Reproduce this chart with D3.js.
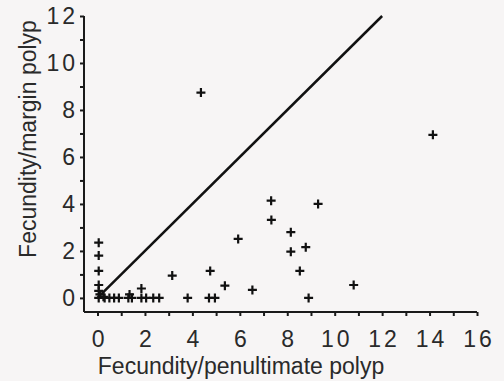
<!DOCTYPE html>
<html>
<head>
<meta charset="utf-8">
<script src="https://cdn.jsdelivr.net/npm/d3@7"></script>
<style>
  body { margin: 0; background: #f7f5f5; }
  svg { display: block; }
  .axis path, .axis line { stroke: #1a1a1a; stroke-width: 2; }
  .axis text { font-family: "Liberation Sans", Arial, sans-serif; font-size: 23px; fill: #2a2a2a; letter-spacing: 3px; }
  .title { font-family: "Liberation Sans", Arial, sans-serif; font-size: 23px; fill: #2a2a2a; }
</style>
</head>
<body>
<script>
// x = fecundity / penultimate polyp, y = fecundity / margin polyp
var xVals = [0.05, 0.05, 0.05, 0.05, 0.05, 0.1, 0.05,
  0.25, 0.3, 0.5, 0.7, 0.9, 1.3, 1.45, 1.85, 2.05, 2.35, 2.6,
  1.35, 1.85,
  3.15, 3.8, 4.75, 4.7, 4.95, 5.37, 5.93, 6.53, 7.32, 7.33,
  8.15, 8.15, 8.78, 8.53, 8.9, 9.3, 10.8, 4.36, 14.14];
var yVals = [2.35, 1.8, 1.15, 0.55, 0.3, 0.15, 0,
  0.05, 0, 0, 0, 0, 0, 0, 0, 0, 0, 0,
  0.15, 0.4,
  0.95, 0, 1.15, 0, 0, 0.52, 2.51, 0.34, 4.14, 3.32,
  2.8, 1.97, 2.16, 1.15, 0, 4.0, 0.55, 8.74, 6.94];
var xTicks = d3.range(0, 17, 1);
var yTicks = d3.range(0, 13, 1);
var lineEnds = [[0, 0], [12, 12]];

var w = 504, h = 381;

var x = d3.scaleLinear().domain([-0.57, 16]).range([84, 477]);
var y = d3.scaleLinear().domain([-0.6, 12]).range([312, 16]);

var svg = d3.select("body").append("svg")
  .attr("width", w)
  .attr("height", h);

var xAxis = d3.axisBottom(x)
  .tickValues(xTicks)
  .tickSize(4)
  .tickPadding(15)
  .tickFormat(function (d) { return d % 2 === 0 ? d : ""; });

var yAxis = d3.axisLeft(y)
  .tickValues(yTicks)
  .tickSize(4)
  .tickPadding(5)
  .tickFormat(function (d) { return d % 2 === 0 ? d : ""; });

svg.append("g")
  .attr("class", "x axis")
  .attr("transform", "translate(0," + y(-0.6) + ")")
  .call(xAxis)
  .call(function (g) {
    g.select(".domain").attr("d", "M" + x(-0.57) + ",0H" + x(16));
    g.selectAll("text").attr("dx", "1.5px");
  });

svg.append("g")
  .attr("class", "y axis")
  .attr("transform", "translate(" + x(-0.57) + ",0)")
  .call(yAxis)
  .call(function (g) {
    g.select(".domain").attr("d", "M0," + y(12) + "V" + y(-0.6));
    g.selectAll("text").attr("dx", "3px");
  });

svg.append("line")
  .attr("x1", x(lineEnds[0][0]))
  .attr("y1", y(lineEnds[0][1]))
  .attr("x2", x(lineEnds[1][0]))
  .attr("y2", y(lineEnds[1][1]))
  .attr("stroke", "#111")
  .attr("stroke-width", 2.5);

var pts = xVals.map(function (d, i) { return [d, yVals[i]]; });

svg.append("g")
  .selectAll("path")
  .data(pts)
  .enter().append("path")
  .attr("d", function (d) {
    var cx = x(d[0]), cy = y(d[1]), r = 4.5;
    return "M" + (cx - r) + "," + cy + "H" + (cx + r) + "M" + cx + "," + (cy - r) + "V" + (cy + r);
  })
  .attr("stroke", "#111")
  .attr("stroke-width", 2.2)
  .attr("fill", "none");

svg.append("text")
  .attr("class", "title")
  .attr("x", 241)
  .attr("y", 374)
  .attr("text-anchor", "middle")
  .text("Fecundity/penultimate polyp");

svg.append("text")
  .attr("class", "title")
  .attr("transform", "translate(36,139) rotate(-90)")
  .attr("text-anchor", "middle")
  .text("Fecundity/margin polyp");
</script>
</body>
</html>
